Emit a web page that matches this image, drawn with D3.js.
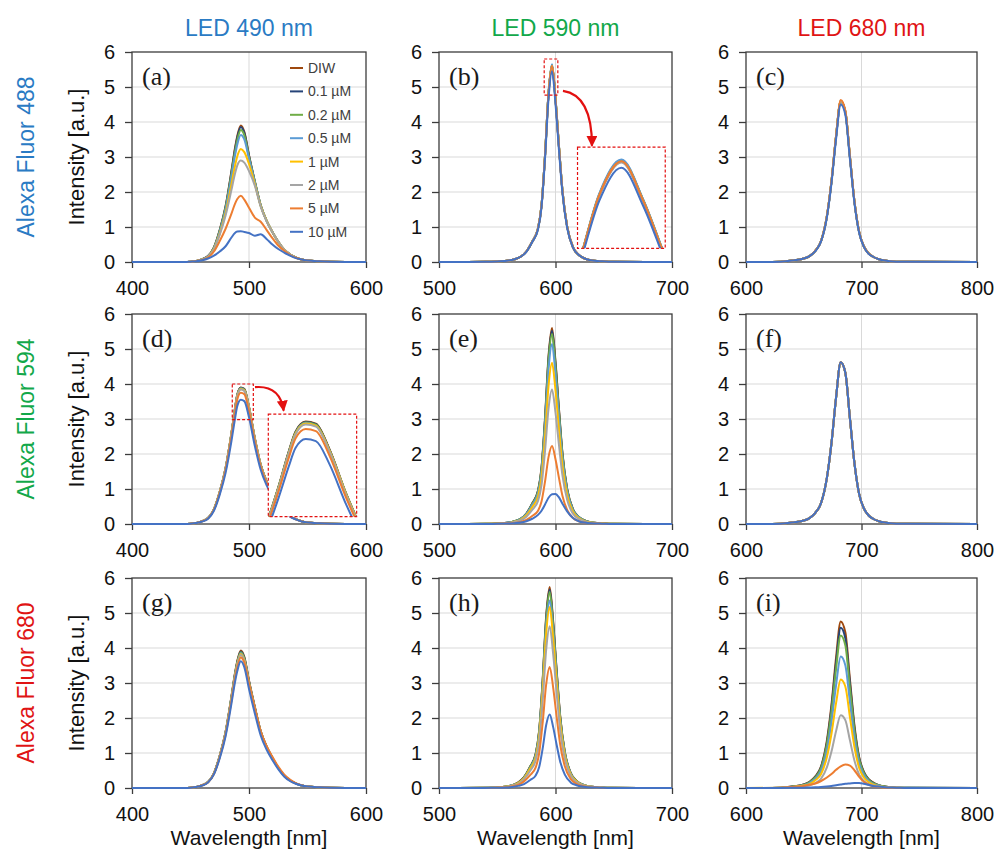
<!DOCTYPE html>
<html><head><meta charset="utf-8">
<script src="https://cdn.jsdelivr.net/npm/d3@7"></script>
<style>body{margin:0;background:#fff}svg{display:block}</style>
</head><body>
<svg id="chart" width="999" height="852"></svg>
<script>
// ---------- data ----------
const seriesNames = ["DIW","0.1 µM","0.2 µM","0.5 µM","1 µM","2 µM","5 µM","10 µM"];
const seriesColors = ["#9E480E","#264478","#70AD47","#5B9BD5","#FFC000","#A5A5A5","#ED7D31","#4472C4"];
const ledTitles = ["LED 490 nm","LED 590 nm","LED 680 nm"];
const ledColors = ["#2A7BC4","#12A84A","#E01414"];
const dyeTitles = ["Alexa Fluor 488","Alexa Fluor 594","Alexa Fluor 680"];
const panelLetters = ["(a)","(b)","(c)","(d)","(e)","(f)","(g)","(h)","(i)"];
const xDomains = [[400,600],[500,700],[600,800]];
const xTickValues = [[400,500,600],[500,600,700],[600,700,800]];
const yTickValues = [0,1,2,3,4,5,6];

// wavelength grids (nm)
const wl490 = [400,445,450,455,460,465,470,475,480,485,488,490,493,496,500,505,510,515,520,525,530,535,540,545,550,560,570,600];
const wl590 = [500,540,550,560,565,570,575,580,585,588,591,594,597,600,603,606,610,615,620,625,630,640,650,700];
const wl590h = [500,538,548,558,563,568,573,578,583,586,589,592,595,598,601,604,608,613,618,623,628,638,648,700];
const wl680 = [600,630,640,650,655,660,665,670,674,678,682,686,690,694,698,702,706,710,715,720,730,740,800];

// (a) Alexa Fluor 488, LED 490
const panelA = [
 [0,0,0.01,0.03,0.08,0.17,0.42,0.92,1.6,2.6,3.25,3.6,3.9,3.72,3.05,2.3,1.62,1.18,0.86,0.58,0.36,0.22,0.13,0.07,0.04,0.02,0.01,0],
 [0,0,0.01,0.03,0.08,0.17,0.41,0.91,1.58,2.57,3.21,3.56,3.86,3.69,3.04,2.3,1.62,1.18,0.86,0.58,0.36,0.22,0.13,0.07,0.04,0.02,0.01,0],
 [0,0,0.01,0.03,0.08,0.16,0.4,0.89,1.55,2.52,3.14,3.48,3.77,3.62,3.0,2.29,1.62,1.18,0.86,0.58,0.36,0.22,0.13,0.07,0.04,0.02,0.01,0],
 [0,0,0.01,0.03,0.07,0.16,0.39,0.86,1.5,2.43,3.03,3.36,3.63,3.5,2.95,2.27,1.61,1.18,0.86,0.58,0.36,0.22,0.13,0.07,0.04,0.02,0.01,0],
 [0,0,0.01,0.03,0.07,0.15,0.37,0.81,1.4,2.22,2.74,3.02,3.23,3.14,2.8,2.22,1.6,1.18,0.86,0.58,0.36,0.22,0.13,0.07,0.04,0.02,0.01,0],
 [0,0,0.01,0.03,0.07,0.15,0.36,0.78,1.33,2.06,2.52,2.76,2.9,2.84,2.6,2.18,1.58,1.17,0.86,0.58,0.36,0.22,0.13,0.07,0.04,0.02,0.01,0],
 [0,0,0.01,0.03,0.06,0.13,0.3,0.6,0.95,1.38,1.66,1.8,1.89,1.78,1.55,1.27,1.15,0.92,0.68,0.47,0.32,0.2,0.12,0.07,0.04,0.02,0.01,0],
 [0,0,0.01,0.02,0.05,0.1,0.18,0.3,0.45,0.7,0.83,0.87,0.88,0.86,0.83,0.75,0.79,0.66,0.5,0.37,0.27,0.18,0.11,0.07,0.04,0.02,0.01,0]
];
// (b) Alexa Fluor 488, LED 590
const panelB = [
 [0,0.005,0.015,0.04,0.08,0.15,0.3,0.58,0.96,1.62,3.04,4.81,5.62,4.66,3.29,2.02,1.01,0.42,0.2,0.1,0.05,0.02,0.005,0],
 [0,0.005,0.015,0.04,0.08,0.15,0.3,0.58,0.96,1.61,3.03,4.79,5.6,4.64,3.28,2.02,1.01,0.42,0.2,0.1,0.05,0.02,0.005,0],
 [0,0.005,0.015,0.04,0.08,0.15,0.3,0.58,0.96,1.62,3.04,4.82,5.63,4.67,3.3,2.03,1.01,0.42,0.2,0.1,0.05,0.02,0.005,0],
 [0,0.005,0.015,0.04,0.08,0.15,0.3,0.59,0.97,1.63,3.05,4.84,5.65,4.68,3.31,2.04,1.02,0.43,0.2,0.1,0.05,0.02,0.005,0],
 [0,0.005,0.015,0.04,0.08,0.15,0.3,0.58,0.96,1.61,3.03,4.79,5.6,4.64,3.28,2.02,1.01,0.42,0.2,0.1,0.05,0.02,0.005,0],
 [0,0.005,0.015,0.04,0.08,0.15,0.3,0.58,0.96,1.61,3.02,4.78,5.58,4.62,3.27,2.01,1.0,0.42,0.2,0.1,0.05,0.02,0.005,0],
 [0,0.005,0.015,0.04,0.08,0.15,0.3,0.58,0.96,1.61,3.03,4.8,5.61,4.65,3.28,2.02,1.01,0.42,0.2,0.1,0.05,0.02,0.005,0],
 [0,0.005,0.015,0.04,0.08,0.15,0.29,0.57,0.93,1.57,2.95,4.66,5.45,4.52,3.19,1.96,0.98,0.41,0.2,0.1,0.05,0.02,0.005,0]
];
// (c) Alexa Fluor 488, LED 680
const panelC = [
 [0,0.01,0.04,0.1,0.17,0.32,0.6,1.3,2.3,3.6,4.6,4.3,3.0,1.7,0.85,0.45,0.25,0.15,0.08,0.04,0.01,0.005,0],
 [0,0.01,0.04,0.1,0.17,0.32,0.6,1.29,2.29,3.58,4.58,4.28,2.99,1.69,0.85,0.45,0.25,0.15,0.08,0.04,0.01,0.005,0],
 [0,0.01,0.04,0.1,0.17,0.32,0.6,1.3,2.3,3.6,4.6,4.3,3.0,1.7,0.85,0.45,0.25,0.15,0.08,0.04,0.01,0.005,0],
 [0,0.01,0.04,0.1,0.17,0.32,0.6,1.3,2.3,3.6,4.6,4.3,3.0,1.7,0.85,0.45,0.25,0.15,0.08,0.04,0.01,0.005,0],
 [0,0.01,0.04,0.1,0.17,0.32,0.6,1.3,2.3,3.6,4.6,4.3,3.0,1.7,0.85,0.45,0.25,0.15,0.08,0.04,0.01,0.005,0],
 [0,0.01,0.04,0.1,0.17,0.32,0.6,1.3,2.3,3.6,4.6,4.3,3.0,1.7,0.85,0.45,0.25,0.15,0.08,0.04,0.01,0.005,0],
 [0,0.01,0.04,0.1,0.17,0.32,0.6,1.31,2.32,3.62,4.63,4.33,3.02,1.71,0.86,0.45,0.25,0.15,0.08,0.04,0.01,0.005,0],
 [0,0.01,0.04,0.1,0.17,0.31,0.59,1.27,2.25,3.52,4.5,4.21,2.93,1.66,0.83,0.44,0.24,0.15,0.08,0.04,0.01,0.005,0]
];
// (d) Alexa Fluor 594, LED 490
const panelD = [
 [0,0,0.01,0.03,0.08,0.17,0.42,0.92,1.6,2.6,3.3,3.7,3.9,3.86,3.35,2.45,1.7,1.22,0.88,0.6,0.38,0.23,0.14,0.08,0.04,0.02,0.01,0],
 [0,0,0.01,0.03,0.08,0.17,0.42,0.92,1.6,2.59,3.29,3.69,3.89,3.85,3.34,2.44,1.69,1.22,0.88,0.6,0.38,0.23,0.14,0.08,0.04,0.02,0.01,0],
 [0,0,0.01,0.03,0.08,0.17,0.42,0.92,1.59,2.59,3.28,3.68,3.88,3.84,3.33,2.44,1.69,1.22,0.88,0.6,0.38,0.23,0.14,0.08,0.04,0.02,0.01,0],
 [0,0,0.01,0.03,0.08,0.17,0.42,0.91,1.58,2.57,3.27,3.66,3.87,3.82,3.32,2.43,1.68,1.21,0.88,0.6,0.38,0.23,0.14,0.08,0.04,0.02,0.01,0],
 [0,0,0.01,0.03,0.08,0.17,0.42,0.91,1.58,2.57,3.26,3.66,3.86,3.82,3.32,2.43,1.68,1.21,0.87,0.6,0.38,0.23,0.14,0.08,0.04,0.02,0.01,0],
 [0,0,0.01,0.03,0.08,0.17,0.41,0.91,1.58,2.56,3.25,3.64,3.84,3.8,3.3,2.41,1.67,1.2,0.87,0.59,0.37,0.23,0.14,0.08,0.04,0.02,0.01,0],
 [0,0,0.01,0.03,0.08,0.16,0.4,0.89,1.54,2.5,3.17,3.56,3.75,3.71,3.22,2.36,1.64,1.17,0.85,0.58,0.37,0.22,0.13,0.08,0.04,0.02,0.01,0],
 [0,0,0.01,0.03,0.07,0.15,0.38,0.84,1.46,2.37,3.0,3.37,3.55,3.51,3.05,2.23,1.55,1.11,0.8,0.55,0.35,0.21,0.13,0.07,0.04,0.02,0.01,0]
];
// (e) Alexa Fluor 594, LED 590
const panelE = [
 [0,0.005,0.015,0.04,0.08,0.15,0.3,0.59,0.96,1.61,3.03,4.79,5.6,4.64,3.28,2.02,1.01,0.42,0.2,0.1,0.05,0.02,0.005,0],
 [0,0.005,0.015,0.04,0.08,0.15,0.3,0.58,0.94,1.59,2.98,4.72,5.52,4.58,3.23,1.99,0.99,0.42,0.2,0.1,0.05,0.02,0.005,0],
 [0,0.005,0.015,0.04,0.08,0.15,0.29,0.57,0.93,1.56,2.93,4.65,5.43,4.5,3.18,1.96,0.98,0.41,0.2,0.1,0.05,0.02,0.005,0],
 [0,0.005,0.014,0.04,0.07,0.14,0.28,0.54,0.88,1.48,2.78,4.4,5.14,4.26,3.01,1.85,0.93,0.39,0.19,0.09,0.05,0.02,0.005,0],
 [0,0.004,0.012,0.03,0.07,0.12,0.25,0.48,0.79,1.33,2.49,3.94,4.61,3.82,2.7,1.66,0.83,0.35,0.17,0.08,0.04,0.02,0.004,0],
 [0,0.003,0.01,0.03,0.06,0.1,0.21,0.4,0.66,1.11,2.08,3.29,3.84,3.18,2.25,1.38,0.69,0.29,0.14,0.07,0.03,0.01,0.003,0],
 [0,0.002,0.006,0.02,0.03,0.06,0.12,0.23,0.38,0.64,1.21,1.91,2.23,1.85,1.31,0.8,0.4,0.17,0.08,0.04,0.02,0.01,0.002,0],
 [0,0.002,0.005,0.012,0.02,0.04,0.08,0.15,0.26,0.38,0.56,0.75,0.85,0.86,0.76,0.58,0.36,0.17,0.08,0.04,0.02,0.01,0.002,0]
];
// (f) Alexa Fluor 594, LED 680 (all series coincide)
const panelFCommon = [0,0.01,0.04,0.1,0.17,0.32,0.6,1.31,2.31,3.62,4.62,4.32,3.01,1.71,0.85,0.45,0.25,0.15,0.08,0.04,0.01,0.005,0];
const panelF = [panelFCommon,panelFCommon,panelFCommon,panelFCommon,panelFCommon,panelFCommon,panelFCommon,panelFCommon];
// (g) Alexa Fluor 680, LED 490
const panelG = [
 [0,0,0.01,0.03,0.08,0.17,0.42,0.93,1.61,2.62,3.28,3.63,3.93,3.75,3.07,2.32,1.63,1.19,0.87,0.58,0.36,0.22,0.13,0.07,0.04,0.02,0.01,0],
 [0,0,0.01,0.03,0.08,0.17,0.42,0.92,1.6,2.6,3.25,3.6,3.9,3.72,3.05,2.3,1.62,1.18,0.86,0.58,0.36,0.22,0.13,0.07,0.04,0.02,0.01,0],
 [0,0,0.01,0.03,0.08,0.17,0.42,0.92,1.59,2.59,3.23,3.58,3.88,3.7,3.03,2.29,1.61,1.18,0.86,0.58,0.36,0.22,0.13,0.07,0.04,0.02,0.01,0],
 [0,0,0.01,0.03,0.08,0.17,0.41,0.91,1.58,2.57,3.21,3.55,3.85,3.67,3.01,2.27,1.6,1.17,0.85,0.57,0.36,0.22,0.13,0.07,0.04,0.02,0.01,0],
 [0,0,0.01,0.03,0.08,0.17,0.41,0.9,1.57,2.55,3.19,3.54,3.83,3.65,3.0,2.26,1.59,1.16,0.85,0.57,0.35,0.22,0.13,0.07,0.04,0.02,0.01,0],
 [0,0,0.01,0.03,0.08,0.17,0.41,0.9,1.56,2.53,3.17,3.51,3.8,3.62,2.97,2.24,1.58,1.15,0.84,0.57,0.35,0.21,0.13,0.07,0.04,0.02,0.01,0],
 [0,0,0.01,0.03,0.08,0.16,0.4,0.88,1.53,2.49,3.11,3.44,3.73,3.58,2.98,2.28,1.62,1.2,0.89,0.61,0.39,0.24,0.14,0.08,0.04,0.02,0.01,0],
 [0,0,0.01,0.03,0.07,0.16,0.39,0.85,1.48,2.41,3.02,3.34,3.62,3.45,2.83,2.13,1.5,1.1,0.8,0.54,0.33,0.2,0.12,0.07,0.04,0.02,0.01,0]
];
// (h) Alexa Fluor 680, LED 590
const panelH = [
 [0,0.005,0.016,0.04,0.08,0.16,0.31,0.6,0.98,1.65,3.1,4.91,5.74,4.76,3.36,2.07,1.03,0.43,0.21,0.1,0.05,0.02,0.005,0],
 [0,0.005,0.015,0.04,0.08,0.15,0.31,0.59,0.97,1.63,3.06,4.85,5.67,4.7,3.32,2.04,1.02,0.43,0.2,0.1,0.05,0.02,0.005,0],
 [0,0.005,0.015,0.04,0.08,0.15,0.3,0.59,0.96,1.61,3.03,4.79,5.6,4.64,3.28,2.02,1.01,0.42,0.2,0.1,0.05,0.02,0.005,0],
 [0,0.005,0.014,0.04,0.08,0.14,0.29,0.56,0.92,1.55,2.9,4.59,5.36,4.44,3.14,1.93,0.97,0.41,0.19,0.1,0.05,0.02,0.005,0],
 [0,0.005,0.014,0.04,0.07,0.14,0.28,0.54,0.88,1.49,2.79,4.42,5.17,4.28,3.03,1.86,0.93,0.39,0.19,0.09,0.05,0.02,0.005,0],
 [0,0.004,0.012,0.03,0.07,0.12,0.25,0.48,0.79,1.33,2.5,3.95,4.62,3.83,2.71,1.66,0.83,0.35,0.17,0.08,0.04,0.02,0.004,0],
 [0,0.003,0.009,0.02,0.05,0.09,0.19,0.36,0.59,1.0,1.87,2.96,3.46,2.87,2.03,1.25,0.62,0.26,0.12,0.06,0.03,0.01,0.003,0],
 [0,0.002,0.006,0.015,0.03,0.06,0.11,0.22,0.36,0.6,1.13,1.8,2.1,1.74,1.23,0.76,0.38,0.16,0.08,0.04,0.02,0.01,0.002,0]
];
// (i) Alexa Fluor 680, LED 680
const panelI = [
 [0,0.01,0.04,0.1,0.18,0.33,0.62,1.35,2.38,3.73,4.76,4.45,3.1,1.76,0.88,0.47,0.26,0.16,0.08,0.04,0.01,0.005,0],
 [0,0.01,0.04,0.1,0.17,0.32,0.6,1.29,2.29,3.59,4.58,4.28,2.99,1.69,0.85,0.45,0.25,0.15,0.08,0.04,0.01,0.005,0],
 [0,0.01,0.04,0.09,0.16,0.3,0.57,1.23,2.18,3.41,4.36,4.08,2.84,1.61,0.81,0.43,0.24,0.14,0.08,0.04,0.01,0.005,0],
 [0,0.01,0.03,0.08,0.14,0.26,0.49,1.06,1.88,2.94,3.76,3.51,2.45,1.39,0.69,0.37,0.2,0.12,0.07,0.03,0.01,0.004,0],
 [0,0.007,0.03,0.07,0.11,0.22,0.4,0.88,1.55,2.43,3.1,2.9,2.02,1.15,0.57,0.3,0.17,0.1,0.05,0.03,0.007,0.003,0],
 [0,0.005,0.02,0.05,0.08,0.14,0.27,0.59,1.04,1.63,2.08,1.94,1.36,0.77,0.38,0.2,0.11,0.07,0.04,0.02,0.005,0.002,0],
 [0,0.01,0.03,0.06,0.09,0.13,0.2,0.3,0.4,0.52,0.62,0.67,0.64,0.5,0.32,0.18,0.1,0.05,0.03,0.01,0.005,0,0],
 [0,0.002,0.005,0.01,0.015,0.02,0.03,0.045,0.06,0.08,0.1,0.12,0.13,0.14,0.14,0.12,0.09,0.06,0.04,0.02,0.01,0,0]
];

// zoom-inset annotations (data units of the host panel)
const insetB = {zoom:{x:[590.3,602],y:[4.77,5.8]}, box:{x:[618.9,694.2],y:[0.39,3.28]}, view:{x:[591,603],y:[3.5,5.95]}, arrow:[[606.4,4.89],[631.3,4.77],[631.3,3.32]]};
const insetD = {zoom:{x:[485.7,503.7],y:[2.98,4.0]}, box:{x:[516.5,592],y:[0.21,3.14]}, view:{x:[482,508],y:[2.0,4.05]}, arrow:[[505.1,3.91],[526.5,3.97],[529.6,3.24]]};

// ---------- layout ----------
const W = 999, H = 852;
const colX = [132, 439, 746], colW = [234, 233, 231];
const rowY = [52, 314, 578], rowH = 210;
const sans = "'Liberation Sans', Arial, sans-serif";
const serif = "'Liberation Serif', 'Times New Roman', serif";

const panels = [
  {row:0,col:0,wl:wl490,data:panelA,inset:null,legend:true},
  {row:0,col:1,wl:wl590,data:panelB,inset:insetB},
  {row:0,col:2,wl:wl680,data:panelC,inset:null},
  {row:1,col:0,wl:wl490,data:panelD,inset:insetD},
  {row:1,col:1,wl:wl590,data:panelE,inset:null},
  {row:1,col:2,wl:wl680,data:panelF,inset:null},
  {row:2,col:0,wl:wl490,data:panelG,inset:null},
  {row:2,col:1,wl:wl590h,data:panelH,inset:null},
  {row:2,col:2,wl:wl680,data:panelI,inset:null}
];

const svg = d3.select("#chart");
svg.append("rect").attr("width",W).attr("height",H).attr("fill","#fff");
const defs = svg.append("defs");
defs.append("marker").attr("id","arrRed").attr("viewBox","0 0 10 10")
  .attr("refX",9).attr("refY",5).attr("markerWidth",11).attr("markerHeight",11)
  .attr("markerUnits","userSpaceOnUse").attr("orient","auto")
  .append("path").attr("d","M0,0L10,5L0,10z").attr("fill","#E31010");

panels.forEach((p,i)=>{
  const x0 = colX[p.col], y0 = rowY[p.row], w = colW[p.col], h = rowH;
  const x = d3.scaleLinear().domain(xDomains[p.col]).range([x0, x0+w]);
  const y = d3.scaleLinear().domain([0,6]).range([y0+h, y0]);
  const g = svg.append("g");
  const clipId = "clip"+i;
  defs.append("clipPath").attr("id",clipId).append("rect")
    .attr("x",x0).attr("y",y0-2).attr("width",w).attr("height",h+4);

  // gridlines
  g.selectAll(".hg").data(yTickValues.filter(v=>v>0 && v<6)).join("line")
    .attr("x1",x0).attr("x2",x0+w).attr("y1",d=>y(d)).attr("y2",d=>y(d))
    .attr("stroke","#D9D9D9").attr("stroke-width",1);
  g.selectAll(".vg").data([xTickValues[p.col][1]]).join("line")
    .attr("x1",d=>x(d)).attr("x2",d=>x(d)).attr("y1",y0).attr("y2",y0+h)
    .attr("stroke","#D9D9D9").attr("stroke-width",1);

  // frame
  g.append("rect").attr("x",x0).attr("y",y0).attr("width",w).attr("height",h)
    .attr("fill","none").attr("stroke","#3c3c3c").attr("stroke-width",1.3);

  // axes
  const ax = g.append("g").attr("transform",`translate(0,${y0+h})`)
    .call(d3.axisBottom(x).tickValues(xTickValues[p.col]).tickFormat(d3.format("d"))
      .tickSize(6).tickSizeOuter(0).tickPadding(13));
  const ay = g.append("g").attr("transform",`translate(${x0},0)`)
    .call(d3.axisLeft(y).tickValues(yTickValues).tickFormat(d3.format("d"))
      .tickSize(7).tickSizeOuter(0).tickPadding(10));
  [ax,ay].forEach(a=>{
    a.select(".domain").remove();
    a.attr("font-size",20).attr("font-family",sans);
    a.selectAll("line").attr("stroke","#3c3c3c").attr("stroke-width",1.3);
    a.selectAll("text").attr("fill","#111");
  });

  // series
  const line = d3.line().x((d,j)=>x(p.wl[j])).y(d=>y(d)).curve(d3.curveMonotoneX);
  const lg = g.append("g").attr("clip-path",`url(#${clipId})`);
  p.data.forEach((arr,k)=>{
    lg.append("path").attr("d",line(arr)).attr("fill","none")
      .attr("stroke",seriesColors[k]).attr("stroke-width",2).attr("stroke-linejoin","round");
  });

  // panel letter
  g.append("text").attr("x",x0+10).attr("y",y0+33).text(panelLetters[i])
    .attr("font-family",serif).attr("font-size",26).attr("fill","#1a1a1a");

  // legend
  if (p.legend){
    const leg = g.append("g");
    seriesNames.forEach((s,k)=>{
      const ly = y0+16+k*23.4;
      leg.append("line").attr("x1",x0+158).attr("x2",x0+171).attr("y1",ly).attr("y2",ly)
        .attr("stroke",seriesColors[k]).attr("stroke-width",2);
      leg.append("text").attr("x",x0+176).attr("y",ly).attr("dy","0.36em").text(s)
        .attr("font-family",sans).attr("font-size",14).attr("fill","#404040");
    });
  }

  // zoom inset
  if (p.inset){
    const ins = p.inset;
    const red = "#E31010";
    g.append("rect").attr("x",x(ins.zoom.x[0])).attr("y",y(ins.zoom.y[1]))
      .attr("width",x(ins.zoom.x[1])-x(ins.zoom.x[0])).attr("height",y(ins.zoom.y[0])-y(ins.zoom.y[1]))
      .attr("fill","none").attr("stroke",red).attr("stroke-width",1.2).attr("stroke-dasharray","3,2");
    const bx0 = x(ins.box.x[0]), bx1 = x(ins.box.x[1]), by0 = y(ins.box.y[1]), by1 = y(ins.box.y[0]);
    const ix = d3.scaleLinear().domain(ins.view.x).range([bx0,bx1]);
    const iy = d3.scaleLinear().domain(ins.view.y).range([by1,by0]);
    const icid = "iclip"+i;
    defs.append("clipPath").attr("id",icid).append("rect")
      .attr("x",bx0).attr("y",by0).attr("width",bx1-bx0).attr("height",by1-by0);
    g.append("rect").attr("x",bx0).attr("y",by0).attr("width",bx1-bx0).attr("height",by1-by0).attr("fill","#fff");
    const iline = d3.line().x((d,j)=>ix(p.wl[j])).y(d=>iy(d)).curve(d3.curveMonotoneX);
    const ig = g.append("g").attr("clip-path",`url(#${icid})`);
    p.data.forEach((arr,k)=>{
      ig.append("path").attr("d",iline(arr)).attr("fill","none")
        .attr("stroke",seriesColors[k]).attr("stroke-width",2);
    });
    g.append("rect").attr("x",bx0).attr("y",by0).attr("width",bx1-bx0).attr("height",by1-by0)
      .attr("fill","none").attr("stroke",red).attr("stroke-width",1.2).attr("stroke-dasharray","3,2");
    const a = ins.arrow;
    g.append("path")
      .attr("d",`M${x(a[0][0])},${y(a[0][1])}Q${x(a[1][0])},${y(a[1][1])} ${x(a[2][0])},${y(a[2][1])}`)
      .attr("fill","none").attr("stroke",red).attr("stroke-width",2.2).attr("marker-end","url(#arrRed)");
  }
});

// column titles
ledTitles.forEach((t,c)=>{
  svg.append("text").attr("x",colX[c]+colW[c]/2).attr("y",36).attr("text-anchor","middle")
    .text(t).attr("font-family",sans).attr("font-size",23).attr("fill",ledColors[c]);
});
// row titles
dyeTitles.forEach((t,r)=>{
  const cy = rowY[r]+rowH/2;
  svg.append("text").attr("transform",`translate(34,${cy}) rotate(-90)`).attr("text-anchor","middle")
    .text(t).attr("font-family",sans).attr("font-size",23).attr("fill",ledColors[r]);
  svg.append("text").attr("transform",`translate(84,${cy}) rotate(-90)`).attr("text-anchor","middle")
    .text("Intensity [a.u.]").attr("font-family",sans).attr("font-size",22).attr("fill","#111");
});
// x axis titles
[0,1,2].forEach(c=>{
  svg.append("text").attr("x",colX[c]+colW[c]/2).attr("y",845).attr("text-anchor","middle")
    .text("Wavelength [nm]").attr("font-family",sans).attr("font-size",21).attr("fill","#111");
});
</script>
</body></html>
